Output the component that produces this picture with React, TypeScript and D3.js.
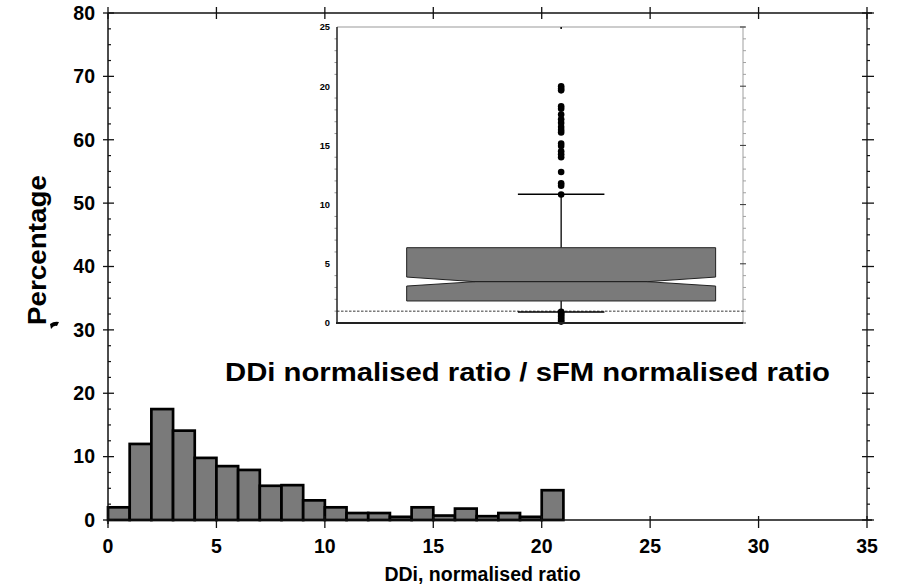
import React from "react";
import * as d3 from "d3";

// Histogram: percentage per 1-unit bin of DDi normalised ratio (bins 0-1 ... 20-21)
const binStarts = [0, 1, 2, 3, 4, 5, 6, 7, 8, 9, 10, 11, 12, 13, 14, 15, 16, 17, 18, 19, 20];
const binPercent = [2.0, 12.0, 17.5, 14.1, 9.8, 8.5, 7.9, 5.4, 5.5, 3.1, 2.0, 1.1, 1.1, 0.5, 2.0, 0.7, 1.8, 0.6, 1.1, 0.5, 4.7];
const xTicks = [0, 5, 10, 15, 20, 25, 30, 35];
const yTicks = [0, 10, 20, 30, 40, 50, 60, 70, 80];

// Inset box plot (DDi normalised ratio / sFM normalised ratio)
const boxCategory = ["ratio"];
const boxStats = { whiskerLow: 0.93, q1: 1.86, notchLow: 3.12, median: 3.49, notchHigh: 3.88, q3: 6.36, whiskerHigh: 10.87 };
const highOutliers = [20.0, 19.8, 19.65, 18.3, 18.1, 17.6, 17.2, 16.9, 16.55, 16.3, 16.1, 15.15, 14.95, 14.5, 14.25, 14.0, 12.75, 11.8, 11.6, 10.85];
const lowOutliers = [0.12, 0.22, 0.35, 0.5, 0.62, 0.75, 0.85, 0.95];
const insetTicks = [0, 5, 10, 15, 20, 25];
const referenceLine = 1;

const FONT = "'Liberation Sans', Arial, Helvetica, sans-serif";

export default function App() {
  const x = d3.scaleLinear().domain([0, 35]).range([108, 867]);
  const y = d3.scaleLinear().domain([0, 80]).range([520, 13]);
  const yMinor = d3.range(0, 80.01, 2.5).filter((v) => v % 10 !== 0);

  const iy = d3.scaleLinear().domain([0, 25]).range([323, 27]);
  const ib = d3
    .scaleBand<string>()
    .domain(boxCategory)
    .range([337, 743])
    .paddingInner(0)
    .paddingOuter(0.157)
    .align(0.718);
  const insetMinor = d3.range(0, 25.01, 1).filter((v) => v % 5 !== 0);

  const bx0 = ib("ratio") as number;
  const bw = ib.bandwidth();
  const bx1 = bx0 + bw;
  const cx = bx0 + bw / 2;
  const notch = bw * 0.221;
  const capHalf = bw * 0.14;
  const s = boxStats;

  const boxPath = [
    `M${bx0},${iy(s.q3)}`,
    `L${bx1},${iy(s.q3)}`,
    `L${bx1},${iy(s.notchHigh)}`,
    `L${bx1 - notch},${iy(s.median)}`,
    `L${bx1},${iy(s.notchLow)}`,
    `L${bx1},${iy(s.q1)}`,
    `L${bx0},${iy(s.q1)}`,
    `L${bx0},${iy(s.notchLow)}`,
    `L${bx0 + notch},${iy(s.median)}`,
    `L${bx0},${iy(s.notchHigh)}`,
    "Z",
  ].join("");

  return (
    <svg
      width={904}
      height={585}
      style={{ position: "absolute", left: 0, top: 0, background: "#fff" }}
      fontFamily={FONT}
    >
      <rect x={0} y={0} width={904} height={585} fill="#fff" />

      {/* Histogram bars */}
      {binStarts.map((b, i) => (
        <rect
          key={i}
          x={x(b)}
          y={y(binPercent[i])}
          width={x(b + 1) - x(b)}
          height={y(0) - y(binPercent[i])}
          fill="#7a7a7a"
          stroke="#000"
          strokeWidth={2.7}
        />
      ))}

      {/* Main frame */}
      <line x1={x(0)} x2={x(35) + 5} y1={y(80)} y2={y(80)} stroke="#111" strokeWidth={1.5} />
      <line x1={x(0)} x2={x(35) + 5} y1={y(0)} y2={y(0)} stroke="#111" strokeWidth={1.5} />
      <line x1={x(0)} x2={x(0)} y1={y(80)} y2={y(0) + 4} stroke="#111" strokeWidth={1.5} />
      <line x1={x(35)} x2={x(35)} y1={y(80)} y2={y(0)} stroke="#333" strokeWidth={1.5} />

      {/* Y ticks */}
      {yTicks.map((t) => (
        <g key={"y" + t}>
          <line x1={x(0) - 5} x2={x(0) + 6} y1={y(t)} y2={y(t)} stroke="#111" strokeWidth={1.3} />
          <line x1={x(35) - 5} x2={x(35) + 7} y1={y(t)} y2={y(t)} stroke="#111" strokeWidth={1.3} />
          <text x={95} y={y(t) + 6.8} textAnchor="end" fontSize={19.5} fontWeight="bold" fill="#000">
            {t}
          </text>
        </g>
      ))}
      {yMinor.map((t) => (
        <g key={"ym" + t}>
          <line x1={x(0)} x2={x(0) + 3} y1={y(t)} y2={y(t)} stroke="#111" strokeWidth={1.2} />
          <line x1={x(35)} x2={x(35) + 3} y1={y(t)} y2={y(t)} stroke="#111" strokeWidth={1.2} />
        </g>
      ))}

      {/* X ticks */}
      {xTicks.map((t) => (
        <g key={"x" + t}>
          <line x1={x(t)} x2={x(t)} y1={y(0) - 4} y2={y(0) + 8} stroke="#111" strokeWidth={1.3} />
          <line x1={x(t)} x2={x(t)} y1={y(80) - 6} y2={y(80) + 6} stroke="#111" strokeWidth={1.3} />
          <text x={x(t)} y={553} textAnchor="middle" fontSize={19.5} fontWeight="bold" fill="#000">
            {t}
          </text>
        </g>
      ))}

      {/* Axis titles */}
      <text x={482.5} y={581} textAnchor="middle" fontSize={19.5} fontWeight="bold" fill="#000">
        DDi, normalised ratio
      </text>
      <text
        transform="translate(46,250) rotate(-90)"
        textAnchor="middle"
        fontSize={26.5}
        fontWeight="bold"
        fill="#000"
        textLength={150}
        lengthAdjust="spacingAndGlyphs"
      >
        Percentage
      </text>
      <path d="M50,324 Q54,321 59,322 L57,326 Q54,325 51,329 Z" fill="#000" />

      {/* Inset box plot */}
      <rect x={337} y={27} width={406} height={296} fill="#fff" />
      <line x1={337} x2={745} y1={27} y2={27} stroke="#bbb" strokeWidth={1.6} />
      <line x1={743} x2={743} y1={27} y2={323} stroke="#bbb" strokeWidth={1.4} />
      {insetMinor.map((t) => (
        <g key={"im" + t}>
          <line x1={743} x2={746} y1={iy(t)} y2={iy(t)} stroke="#999" strokeWidth={0.9} />
          <line x1={334.5} x2={337} y1={iy(t)} y2={iy(t)} stroke="#888" strokeWidth={0.9} />
        </g>
      ))}
      {insetTicks.map((t) => (
        <g key={"it" + t}>
          <line x1={740} x2={746} y1={iy(t)} y2={iy(t)} stroke="#333" strokeWidth={1} />
          <text x={330} y={iy(t) + 3.4} textAnchor="end" fontSize={9.3} fontWeight="bold" fill="#000">
            {t}
          </text>
        </g>
      ))}
      <line x1={cx} x2={cx} y1={27} y2={29} stroke="#000" strokeWidth={1.5} />

      {/* reference line */}
      <line
        x1={337}
        x2={745}
        y1={iy(referenceLine)}
        y2={iy(referenceLine)}
        stroke="#222"
        strokeWidth={0.9}
        strokeDasharray="2.5,1.5"
      />

      {/* whiskers */}
      <line x1={cx} x2={cx} y1={iy(s.q3)} y2={iy(s.whiskerHigh)} stroke="#000" strokeWidth={1.3} />
      <line x1={cx - capHalf} x2={cx + capHalf} y1={iy(s.whiskerHigh)} y2={iy(s.whiskerHigh)} stroke="#000" strokeWidth={1.5} />
      <line x1={cx} x2={cx} y1={iy(s.q1)} y2={iy(s.whiskerLow)} stroke="#000" strokeWidth={1.3} />
      <line x1={cx - capHalf} x2={cx + capHalf} y1={iy(s.whiskerLow)} y2={iy(s.whiskerLow)} stroke="#000" strokeWidth={1.5} />

      {/* box */}
      <path d={boxPath} fill="#7a7a7a" stroke="#222" strokeWidth={1} />
      <line x1={bx0 + notch} x2={bx1 - notch} y1={iy(s.median)} y2={iy(s.median)} stroke="#111" strokeWidth={1} />

      {/* outliers */}
      {highOutliers.concat(lowOutliers).map((v, i) => (
        <circle key={"o" + i} cx={cx} cy={iy(v)} r={3.3} fill="#000" />
      ))}

      {/* inset axes (dark) */}
      <line x1={337} x2={337} y1={27} y2={323} stroke="#222" strokeWidth={1.5} />
      <line x1={336} x2={743} y1={323} y2={323} stroke="#222" strokeWidth={2} />

      {/* Big label */}
      <text x={225} y={381} fontSize={26} fontWeight="bold" fill="#000" textLength={605} lengthAdjust="spacingAndGlyphs">
        DDi normalised ratio / sFM normalised ratio
      </text>
    </svg>
  );
}
